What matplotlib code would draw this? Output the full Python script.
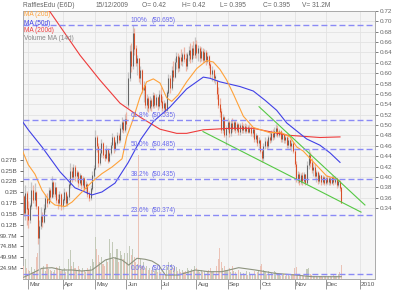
import matplotlib
matplotlib.use('Agg')
import matplotlib.pyplot as plt
from matplotlib.transforms import blended_transform_factory
import numpy as np

plt.rcParams['font.family'] = ['Liberation Sans', 'DejaVu Sans']
plt.rcParams['lines.scale_dashes'] = False

# ---------------- data ----------------
day_index = list(range(-3, 202))   # trading-day index, 0 = 2 Mar 2009

opens = [
    0.405, 0.378, 0.410, 0.385, 0.365, 0.390, 0.415, 0.400, 0.412, 0.388, 0.335, 0.355, 0.372, 0.362, 0.385, 0.402, 0.395, 0.415, 0.405, 0.428, 0.410, 0.420, 0.400, 0.395, 0.408,
    0.390, 0.400, 0.412, 0.395, 0.405, 0.425, 0.448, 0.438, 0.455, 0.440, 0.445, 0.428, 0.440, 0.424, 0.435, 0.420, 0.426, 0.410, 0.402, 0.418, 0.440,
    0.452, 0.505, 0.490, 0.462, 0.478, 0.495, 0.476, 0.470, 0.485, 0.466, 0.478, 0.492, 0.505, 0.485, 0.496, 0.508, 0.500, 0.520, 0.530, 0.518,
    0.535, 0.560, 0.605, 0.650, 0.625, 0.680, 0.655, 0.630, 0.638, 0.605, 0.618, 0.585, 0.592, 0.560, 0.570, 0.555, 0.568, 0.558, 0.575, 0.560, 0.572, 0.558,
    0.578, 0.565, 0.555, 0.562, 0.552, 0.580, 0.605, 0.588, 0.618, 0.608, 0.632, 0.642, 0.622, 0.640, 0.635, 0.645, 0.638, 0.625, 0.645, 0.652, 0.638, 0.655, 0.645,
    0.662, 0.648, 0.655, 0.640, 0.650, 0.636, 0.648, 0.635, 0.642, 0.628, 0.612, 0.618, 0.605, 0.600, 0.578, 0.560, 0.548, 0.518, 0.538, 0.510,
    0.520, 0.530, 0.512, 0.528, 0.520, 0.530, 0.518, 0.526, 0.515, 0.525, 0.518, 0.524, 0.516, 0.522, 0.515, 0.520, 0.512, 0.518, 0.502, 0.508, 0.495,
    0.500, 0.482, 0.470, 0.490, 0.498, 0.490, 0.505, 0.500, 0.512, 0.505, 0.515, 0.520, 0.510, 0.515, 0.502, 0.510, 0.500, 0.505, 0.492, 0.500, 0.490, 0.495,
    0.482, 0.460, 0.435, 0.442, 0.430, 0.440, 0.432, 0.442, 0.428, 0.458, 0.475, 0.462, 0.450, 0.455, 0.440, 0.445, 0.432, 0.440, 0.430, 0.438,
    0.428, 0.436, 0.430, 0.435, 0.428, 0.438, 0.430, 0.435, 0.425, 0.430, 0.420,
]
highs = [
    0.408, 0.425, 0.415, 0.398, 0.395, 0.430, 0.425, 0.428, 0.415, 0.390, 0.365, 0.388, 0.380, 0.392, 0.410, 0.412, 0.422, 0.420, 0.440, 0.432, 0.430, 0.422, 0.410, 0.415, 0.412,
    0.405, 0.420, 0.415, 0.410, 0.430, 0.462, 0.455, 0.460, 0.458, 0.450, 0.448, 0.445, 0.442, 0.440, 0.438, 0.432, 0.428, 0.415, 0.425, 0.448, 0.458,
    0.518, 0.510, 0.495, 0.485, 0.502, 0.498, 0.485, 0.492, 0.488, 0.482, 0.498, 0.512, 0.508, 0.500, 0.515, 0.512, 0.528, 0.540, 0.535, 0.545,
    0.548, 0.615, 0.662, 0.665, 0.695, 0.690, 0.662, 0.645, 0.640, 0.625, 0.620, 0.600, 0.595, 0.578, 0.575, 0.575, 0.572, 0.582, 0.580, 0.578, 0.575, 0.585,
    0.590, 0.575, 0.568, 0.565, 0.585, 0.612, 0.610, 0.625, 0.635, 0.640, 0.650, 0.648, 0.645, 0.655, 0.650, 0.658, 0.648, 0.650, 0.660, 0.665, 0.662, 0.668, 0.674,
    0.670, 0.662, 0.660, 0.658, 0.656, 0.655, 0.652, 0.650, 0.645, 0.632, 0.625, 0.620, 0.612, 0.602, 0.590, 0.572, 0.555, 0.545, 0.542, 0.525,
    0.538, 0.535, 0.535, 0.538, 0.535, 0.534, 0.532, 0.530, 0.530, 0.531, 0.528, 0.529, 0.528, 0.526, 0.527, 0.524, 0.522, 0.520, 0.512, 0.510, 0.505,
    0.502, 0.485, 0.495, 0.505, 0.502, 0.510, 0.515, 0.518, 0.520, 0.522, 0.528, 0.526, 0.520, 0.518, 0.515, 0.512, 0.510, 0.508, 0.505, 0.502, 0.500, 0.498,
    0.485, 0.465, 0.448, 0.446, 0.445, 0.447, 0.446, 0.444, 0.465, 0.485, 0.480, 0.470, 0.462, 0.460, 0.450, 0.448, 0.445, 0.442, 0.442, 0.440,
    0.440, 0.442, 0.440, 0.438, 0.442, 0.440, 0.440, 0.437, 0.435, 0.432, 0.420,
]
lows = [
    0.372, 0.365, 0.358, 0.352, 0.360, 0.385, 0.395, 0.390, 0.385, 0.325, 0.275, 0.350, 0.354, 0.360, 0.380, 0.388, 0.392, 0.398, 0.402, 0.405, 0.405, 0.395, 0.385, 0.390, 0.382,
    0.385, 0.395, 0.390, 0.390, 0.400, 0.420, 0.430, 0.435, 0.432, 0.430, 0.422, 0.425, 0.418, 0.420, 0.415, 0.412, 0.405, 0.398, 0.400, 0.415, 0.435,
    0.450, 0.480, 0.456, 0.458, 0.472, 0.470, 0.465, 0.468, 0.462, 0.464, 0.475, 0.488, 0.478, 0.482, 0.492, 0.495, 0.498, 0.515, 0.512, 0.515,
    0.520, 0.555, 0.600, 0.615, 0.620, 0.645, 0.625, 0.610, 0.598, 0.595, 0.580, 0.565, 0.555, 0.550, 0.548, 0.552, 0.550, 0.555, 0.555, 0.556, 0.552, 0.555,
    0.560, 0.550, 0.548, 0.546, 0.550, 0.575, 0.580, 0.585, 0.600, 0.605, 0.620, 0.615, 0.618, 0.628, 0.625, 0.632, 0.618, 0.620, 0.635, 0.630, 0.632, 0.640, 0.640,
    0.640, 0.635, 0.632, 0.635, 0.630, 0.632, 0.628, 0.630, 0.622, 0.605, 0.600, 0.598, 0.595, 0.570, 0.555, 0.540, 0.512, 0.512, 0.505, 0.492,
    0.515, 0.505, 0.508, 0.515, 0.516, 0.512, 0.514, 0.510, 0.510, 0.512, 0.512, 0.512, 0.513, 0.512, 0.512, 0.508, 0.505, 0.498, 0.497, 0.490, 0.488,
    0.478, 0.464, 0.466, 0.485, 0.486, 0.488, 0.495, 0.497, 0.500, 0.502, 0.508, 0.505, 0.505, 0.498, 0.498, 0.495, 0.496, 0.488, 0.488, 0.485, 0.482, 0.478,
    0.455, 0.430, 0.428, 0.425, 0.426, 0.425, 0.428, 0.424, 0.426, 0.452, 0.455, 0.445, 0.440, 0.436, 0.430, 0.426, 0.428, 0.425, 0.427, 0.424,
    0.425, 0.426, 0.425, 0.424, 0.426, 0.425, 0.426, 0.420, 0.422, 0.415, 0.395,
]
closes = [
    0.378, 0.410, 0.385, 0.365, 0.390, 0.415, 0.400, 0.412, 0.390, 0.335, 0.355, 0.372, 0.362, 0.385, 0.402, 0.395, 0.415, 0.405, 0.428, 0.410, 0.420, 0.400, 0.395, 0.408, 0.390,
    0.400, 0.412, 0.395, 0.405, 0.425, 0.448, 0.438, 0.455, 0.440, 0.445, 0.428, 0.440, 0.424, 0.435, 0.420, 0.426, 0.410, 0.402, 0.418, 0.440, 0.452,
    0.505, 0.490, 0.462, 0.478, 0.495, 0.476, 0.470, 0.485, 0.466, 0.478, 0.492, 0.505, 0.485, 0.496, 0.508, 0.500, 0.520, 0.530, 0.518, 0.535,
    0.528, 0.605, 0.650, 0.625, 0.680, 0.655, 0.630, 0.638, 0.605, 0.618, 0.585, 0.592, 0.560, 0.570, 0.555, 0.568, 0.558, 0.575, 0.560, 0.572, 0.558, 0.578,
    0.565, 0.555, 0.562, 0.552, 0.580, 0.605, 0.588, 0.618, 0.608, 0.632, 0.642, 0.622, 0.640, 0.635, 0.645, 0.638, 0.625, 0.645, 0.652, 0.638, 0.655, 0.645, 0.662,
    0.648, 0.655, 0.640, 0.650, 0.636, 0.648, 0.635, 0.642, 0.628, 0.612, 0.618, 0.605, 0.608, 0.578, 0.560, 0.548, 0.518, 0.538, 0.510, 0.520,
    0.530, 0.512, 0.528, 0.520, 0.530, 0.518, 0.526, 0.515, 0.525, 0.518, 0.524, 0.516, 0.522, 0.515, 0.520, 0.512, 0.518, 0.502, 0.508, 0.495, 0.500,
    0.482, 0.470, 0.490, 0.498, 0.490, 0.505, 0.500, 0.512, 0.505, 0.515, 0.520, 0.510, 0.515, 0.502, 0.510, 0.500, 0.505, 0.492, 0.500, 0.490, 0.495, 0.482,
    0.460, 0.435, 0.442, 0.430, 0.440, 0.432, 0.442, 0.428, 0.458, 0.475, 0.462, 0.450, 0.455, 0.440, 0.445, 0.432, 0.440, 0.430, 0.438, 0.428,
    0.436, 0.430, 0.435, 0.428, 0.438, 0.430, 0.435, 0.425, 0.430, 0.420, 0.395,
]
volumes_m = [
    30, 45, 25, 20, 18, 28, 15, 22, 50, 60, 35, 20, 25, 30, 18, 35, 22, 20, 18, 15, 20, 28, 25, 30, 18,
    20, 25, 15, 18, 45, 67, 30, 40, 25, 20, 30, 22, 18, 25, 20, 15, 25, 20, 30, 45, 40,
    97, 70, 55, 40, 50, 35, 30, 45, 40, 92, 60, 85, 45, 50, 70, 40, 65, 55, 45, 60,
    40, 60, 75, 55, 70, 50, 40, 35, 285, 45, 30, 40, 25, 30, 20, 25, 20, 28, 18, 22, 15, 25,
    15, 12, 10, 12, 30, 40, 20, 35, 25, 30, 28, 18, 22, 15, 20, 15, 18, 25, 20, 15, 22, 18, 30,
    25, 18, 15, 20, 15, 18, 12, 15, 20, 25, 15, 18, 12, 30, 45, 71, 40, 25, 30, 20,
    20, 25, 15, 30, 18, 15, 12, 20, 15, 10, 14, 12, 18, 10, 15, 12, 10, 18, 12, 15, 20,
    30, 35, 20, 15, 12, 18, 10, 14, 12, 18, 15, 10, 12, 8, 10, 12, 8, 10, 12, 8, 10, 12,
    25, 28, 12, 10, 8, 10, 6, 8, 22, 25, 12, 10, 8, 6, 8, 5, 6, 8, 5, 6,
    6, 5, 8, 6, 5, 10, 6, 8, 12, 15, 31.2,
]

# moving averages (index, value)
ma20_idx = [-4.0, 0, 4.3, 8.8, 13.3, 17.1, 23.6, 28.1, 34.5, 40.9, 47.3, 53.7, 60.2, 63.2, 67.2, 71.7, 76.0, 80.3, 84.6, 88.9, 92.1, 96.3, 101.7, 108.2, 114.6, 118.8, 123.1, 127.4, 131.7, 138.1, 144.5, 155.2, 161.6, 168.1, 172.4, 176.6, 183.0, 187.3, 191.6, 197.0, 200.2]
ma20_val = [0.484, 0.459, 0.443, 0.416, 0.399, 0.391, 0.3885, 0.396, 0.413, 0.430, 0.444, 0.455, 0.469, 0.506, 0.535, 0.573, 0.599, 0.604, 0.597, 0.572, 0.566, 0.577, 0.599, 0.6215, 0.635, 0.6325, 0.620, 0.602, 0.5785, 0.541, 0.522, 0.513, 0.514, 0.506, 0.489, 0.482, 0.464, 0.452, 0.440, 0.436, 0.4315]
ma50_idx = [-4.0, 0, 8.8, 20.4, 30.0, 40.9, 47.3, 55.7, 64.0, 72.4, 80.3, 91.0, 101.7, 112.4, 116.7, 123.1, 136.0, 144.5, 152.0, 159.5, 166.0, 172.4, 178.8, 187.3, 193.8, 200.2]
ma50_val = [0.533, 0.518, 0.489, 0.447, 0.420, 0.408, 0.413, 0.428, 0.462, 0.5025, 0.532, 0.5565, 0.587, 0.607, 0.605, 0.599, 0.591, 0.5835, 0.568, 0.551, 0.5295, 0.516, 0.5025, 0.492, 0.479, 0.463]
ma200_idx = [0, 13.9, 33.2, 46.0, 58.9, 71.7, 84.6, 95.3, 101.7, 112.4, 129.5, 144.5, 166.0, 187.3, 200.2]
ma200_val = [0.766, 0.7175, 0.644, 0.602, 0.563, 0.5396, 0.519, 0.512, 0.512, 0.518, 0.5205, 0.5205, 0.509, 0.505, 0.506]
vma_idx = [-3, 2.4, 8.8, 15.2, 21.6, 28.1, 34.5, 40.9, 45.2, 49.5, 54.8, 60.2, 64.5, 69.8, 75.1, 79.4, 83.7, 88.0, 96.6, 107.2, 115.9, 124.4, 135.1, 145.8, 158.6, 171.5, 182.2, 197.2, 201]
vma_val_m = [4, 13, 24.6, 26, 20.7, 20.7, 18.4, 20.7, 32, 43.7, 49, 43.7, 32, 47.6, 45.3, 41.4, 32, 9.2, 9.2, 20.7, 16.8, 16.8, 26, 20.7, 13, 9.2, 5.3, 5.3, 5.3]

# Fibonacci retracement levels
fib_pcts = ["100%", "61.8%", "50.0%", "38.2%", "23.6%", "0.0%"]
fib_prices = [0.695, 0.535, 0.485, 0.435, 0.374, 0.275]
fib_price_labels = ["($0.695)", "($0.535)", "($0.485)", "($0.435)", "($0.374)", "($0.275)"]

# trend lines (index, price)
trend_upper_idx = [148.2, 216.2]
trend_upper_val = [0.557, 0.391]
trend_lower_idx = [112.2, 213.7]
trend_lower_val = [0.515, 0.379]

month_idx = [0, 22, 43, 63, 85, 108, 128, 149, 171, 191, 213]
month_labels = ["Mar", "Apr", "May", "Jun", "Jul", "Aug", "Sep", "Oct", "Nov", "Dec", "2010"]

price_tick_labels = ["0.34", "0.36", "0.38", "0.40", "0.42", "0.44", "0.46", "0.48", "0.50", "0.52",
                     "0.54", "0.56", "0.58", "0.60", "0.62", "0.64", "0.66", "0.68", "0.70", "0.72"]
vol_tick_step_m = 24.93
vol_tick_labels = ["24.9M", "49.9M", "74.8M", "99.7M", "0.12B", "0.15B", "0.17B", "0.2B", "0.22B", "0.25B", "0.27B"]

header_texts = ["RafflesEdu (E6D)", "15/12/2009", "O= 0.42", "H= 0.42", "L= 0.395", "C= 0.395", "V= 31.2M"]
legend_texts = ["MA (20d)", "MA (50d)", "MA (200d)", "Volume MA (14d)"]

# ---------------- figure ----------------
W, H = 400, 292
fig = plt.figure(figsize=(W / 100, H / 100), dpi=100)
fig.patch.set_facecolor('white')

L, R, T, B = 22.5, 375.0, 11.0, 279.0
axr = fig.add_axes([L / W, 1 - B / H, (R - L) / W, (B - T) / H])
axv = axr.twinx()
ax = axr.twinx()

xlim = (-3.72, 222.67)
for a in (axr, axv, ax):
    a.set_xlim(*xlim)

# base axes: background, grid, right price labels
axr.set_facecolor('#f5f5f5')
axr.set_ylim(0.2030, 0.72)
axr.set_yticks([float(s) for s in price_tick_labels])
axr.set_yticklabels(price_tick_labels)
axr.yaxis.tick_right()
axr.tick_params(axis='y', labelsize=4.6, colors='#666666', length=2.5, width=0.6, pad=1)
axr.set_xticks(month_idx)
axr.set_xticklabels([])
axr.tick_params(axis='x', length=7, width=0.6, colors='#888888', direction='out')
axr.grid(True, color='#e2e2e2', lw=0.6)
axr.set_axisbelow(True)
for s in axr.spines.values():
    s.set_color('#aaaaaa')
    s.set_linewidth(0.7)
tr = blended_transform_factory(axr.transData, axr.transAxes)
for pos, lab in zip(month_idx, month_labels):
    axr.text(pos + 0.8, -0.011, lab, transform=tr, ha='left', va='top',
             fontsize=4.6, color='#555555')

# volume axes (left labels)
vol = np.array(volumes_m) * 1e6
xs = np.array(day_index)
o, h, l, c = map(np.array, (opens, highs, lows, closes))
up = c >= o
axv.set_ylim(0, 616e6)
axv.bar(xs, vol, width=0.7, color=np.where(up, '#c3cab9', '#ebc3b7'), linewidth=0, zorder=2)
axv.plot(vma_idx, np.array(vma_val_m) * 1e6, color='#8d937e', lw=0.8, zorder=3)
axv.set_yticks([vol_tick_step_m * (k + 1) * 1e6 for k in range(len(vol_tick_labels))])
axv.set_yticklabels(vol_tick_labels)
axv.yaxis.tick_left()
axv.tick_params(axis='y', labelsize=4.6, colors='#555555', length=2.5, width=0.6, pad=1)
for s in axv.spines.values():
    s.set_visible(False)

# price axes (data)
ax.set_ylim(0.26602, 0.71864)
ax.set_yticks([])
for s in ax.spines.values():
    s.set_visible(False)

ax.vlines(xs, l, h, colors=np.where(up, '#c4c4c4', '#edb3a3'), lw=0.9, zorder=2)
ax.vlines(xs, np.minimum(o, c), np.maximum(o, c) + 0.001,
          colors=np.where(up, '#5e5e5e', '#d6461e'), lw=0.65, zorder=2.5)

ax.plot(ma200_idx, ma200_val, color='#ee3b3b', lw=0.8, zorder=3)
ax.plot(ma50_idx, ma50_val, color='#4040e6', lw=0.8, zorder=3)
ax.plot(ma20_idx, ma20_val, color='#ffa23a', lw=0.8, zorder=3)
ax.plot(trend_upper_idx, trend_upper_val, color='#55c844', lw=0.8, zorder=3)
ax.plot(trend_lower_idx, trend_lower_val, color='#55c844', lw=0.8, zorder=3)

for pct, pv, plab in zip(fib_pcts, fib_prices, fib_price_labels):
    ax.axhline(pv, color='#8a8af5', lw=1.0, dashes=(4.3, 2.2), zorder=4)
    ax.text(65.9, pv + 0.002, pct, ha='left', va='bottom', fontsize=4.7, color='#6b6bec', zorder=5)
    ax.text(79.4, pv + 0.002, plab, ha='left', va='bottom', fontsize=4.7, color='#6b6bec', zorder=5)

# header
header_x = [23.3, 96.0, 141.7, 181.7, 220.0, 263.0, 301.7]
for xp, t in zip(header_x, header_texts):
    fig.text(xp / W, 1 - 5.2 / H, t, ha='left', va='center', fontsize=4.8, color='#666666')

# legend
legend_colors = ['#ffa23a', '#4040e6', '#ee3b3b', '#888888']
legend_y = [15.0, 23.3, 31.0, 38.5]
for t, col, yp in zip(legend_texts, legend_colors, legend_y):
    fig.text(23.5 / W, 1 - yp / H, t, ha='left', va='center', fontsize=4.7, color=col)

fig.savefig('out.png', dpi=100)
